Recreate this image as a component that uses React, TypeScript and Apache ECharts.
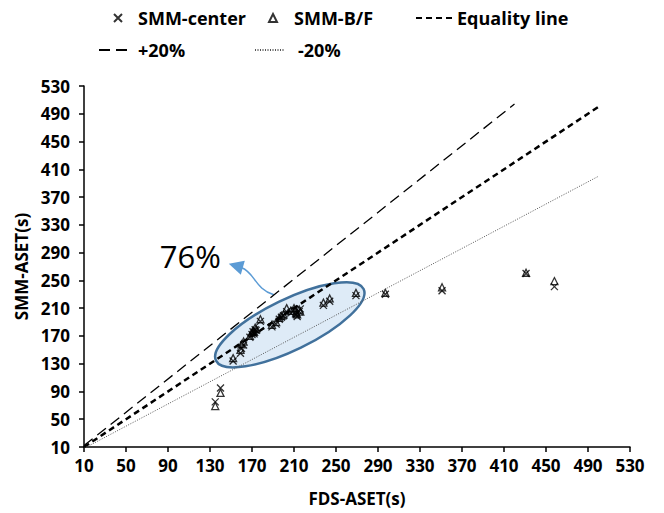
import React, { useEffect, useRef } from 'react';
import * as echarts from 'echarts';

// FDS-ASET(s) values (x) shared by both SMM series
const fdsAset = [135, 140, 152, 159, 160, 162, 168, 170, 171, 172, 173, 174, 178, 189, 193, 196, 198, 200, 203, 207, 210, 212, 213, 215, 216, 238, 244, 269, 297, 351, 431, 458];
// SMM-center ASET(s)
const smmCenter = [75, 95, 134, 145, 152, 157, 168, 172, 176, 173, 179, 178, 191, 183, 187, 194, 197, 199, 205, 203, 207, 201, 198, 205, 209, 214, 220, 228, 230, 235, 260, 241];
// SMM-B/F ASET(s)
const smmBF = [69, 88, 138, 150, 158, 162, 170, 175, 177, 176, 182, 180, 194, 186, 190, 196, 199, 201, 210, 206, 210, 203, 201, 208, 205, 218, 224, 232, 232, 240, 261, 249];

// reference lines
const equalityX = [10, 500];
const equalityY = [10, 500];
const plus20X = [10, 420];
const plus20Y = [12, 504];
const minus20X = [10, 500];
const minus20Y = [8, 400];

const axisMin = 10;
const axisMax = 530;
const axisStep = 40;

const ellipseCenter = [206, 186];
const shareLabel = '76%';

const FONT = '"Open Sans", "Liberation Sans", sans-serif';
const X_PATH = 'path://M0,0L10,10M10,0L0,10';
const TRI_PATH = 'path://M5,0L10,10L0,10Z';

const zip = (xs: number[], ys: number[]) => xs.map((x, i) => [x, ys[i]]);

export default function App() {
  const ref = useRef<HTMLDivElement>(null);
  useEffect(() => {
    const chart = echarts.init(ref.current!, null, { renderer: 'svg' });
    const legendText = { fontFamily: FONT, fontWeight: 'bold', fontSize: 18, color: '#000' };
    const axisCommon = {
      type: 'value',
      min: axisMin,
      max: axisMax,
      interval: axisStep,
      splitLine: { show: false },
      axisLine: { show: true, lineStyle: { color: '#000', width: 1.5 } },
      axisTick: { show: true, inside: false, length: 5, lineStyle: { color: '#000', width: 1.5 } },
      axisLabel: { fontFamily: FONT, fontWeight: 'bold', fontSize: 17, color: '#000' },
      nameTextStyle: { fontFamily: FONT, fontWeight: 'bold', fontSize: 17, color: '#000' },
      nameLocation: 'middle',
    };
    const hiddenSymbol = { opacity: 0 };
    chart.setOption({
      animation: false,
      grid: { left: 84, right: 34, top: 86, bottom: 66, outerBoundsMode: 'none' },
      xAxis: { ...axisCommon, name: 'FDS-ASET(s)', nameGap: 43, axisLabel: { ...axisCommon.axisLabel, margin: 10 } },
      yAxis: { ...axisCommon, name: 'SMM-ASET(s)', nameGap: 52, axisLabel: { ...axisCommon.axisLabel, margin: 14 } },
      legend: [
        { data: ['SMM-center'], left: 113, top: 9, padding: 0, itemWidth: 8, itemHeight: 8, selectedMode: false, textStyle: { ...legendText, padding: [0, 0, 0, 11] } },
        { data: ['SMM-B/F'], left: 268, top: 9, padding: 0, itemWidth: 8, itemHeight: 8, selectedMode: false, textStyle: { ...legendText, padding: [0, 0, 0, 12] } },
        { data: [{ name: 'Equality line', itemStyle: hiddenSymbol }], left: 415, top: 9, padding: 0, itemWidth: 36, itemHeight: 10, selectedMode: false, textStyle: { ...legendText } },
        { data: [{ name: '+20%', itemStyle: hiddenSymbol }], left: 98, top: 41, padding: 0, itemWidth: 34, itemHeight: 10, selectedMode: false, textStyle: { ...legendText } },
        { data: [{ name: '-20%', itemStyle: hiddenSymbol }], left: 254, top: 41, padding: 0, itemWidth: 30, itemHeight: 10, selectedMode: false, textStyle: { ...legendText, padding: [0, 0, 0, 8] } },
      ],
      series: [
        {
          name: 'Equality line', type: 'line', data: zip(equalityX, equalityY), symbol: 'none', showSymbol: false,
          lineStyle: { color: '#000', width: 2.5, type: [6, 4] }, itemStyle: { color: '#000' }, z: 3,
        },
        {
          name: '+20%', type: 'line', data: zip(plus20X, plus20Y), symbol: 'none', showSymbol: false,
          lineStyle: { color: '#000', width: 1.3, type: [11, 6] }, itemStyle: { color: '#000' }, z: 3,
        },
        {
          name: '-20%', type: 'line', data: zip(minus20X, minus20Y), symbol: 'none', showSymbol: false,
          lineStyle: { color: '#555', width: 1, type: [1, 1.5] }, itemStyle: { color: '#555' }, z: 3,
        },
        {
          name: 'SMM-center', type: 'scatter', data: zip(fdsAset, smmCenter), symbol: X_PATH, symbolSize: 7, symbolKeepAspect: true,
          itemStyle: { color: 'transparent', borderColor: '#000', borderWidth: 1.3 }, z: 5,
        },
        {
          name: 'SMM-B/F', type: 'scatter', data: zip(fdsAset, smmBF), symbol: TRI_PATH, symbolSize: 7, symbolKeepAspect: true,
          itemStyle: { color: 'transparent', borderColor: '#000', borderWidth: 1.3 }, z: 5,
        },
      ],
    });
    const c = chart.convertToPixel({ gridIndex: 0 }, ellipseCenter) as number[];
    const cx = c[0];
    const cy = c[1];
    chart.setOption({
      graphic: [
        {
          type: 'ellipse', x: cx, y: cy, rotation: (25.9 * Math.PI) / 180, z: 1,
          shape: { cx: 0, cy: 0, rx: 82, ry: 25.4 },
          style: { fill: 'rgba(91,155,213,0.2)', stroke: '#41719c', lineWidth: 2.5 },
        },
        {
          type: 'bezierCurve', z: 1,
          shape: { x1: cx - 16, y1: cy - 30, cpx1: cx - 35, cpy1: cy - 36, cpx2: cx - 35, cpy2: cy - 52, x2: cx - 48, y2: cy - 57 },
          style: { stroke: '#5b9bd5', lineWidth: 1.5, fill: null },
        },
        {
          type: 'polygon', z: 1,
          shape: { points: [[cx - 61, cy - 61], [cx - 45, cy - 64], [cx - 49, cy - 50]] },
          style: { fill: '#5b9bd5' },
        },
        {
          type: 'text', x: cx - 130, y: cy - 69, z: 1,
          style: { text: shareLabel, fontFamily: FONT, fontSize: 31, fill: '#000', verticalAlign: 'middle', align: 'left' },
        },
      ],
    });
    return () => chart.dispose();
  }, []);
  return <div ref={ref} style={{ position: 'absolute', left: 0, top: 0, width: 664, height: 513 }} />;
}
